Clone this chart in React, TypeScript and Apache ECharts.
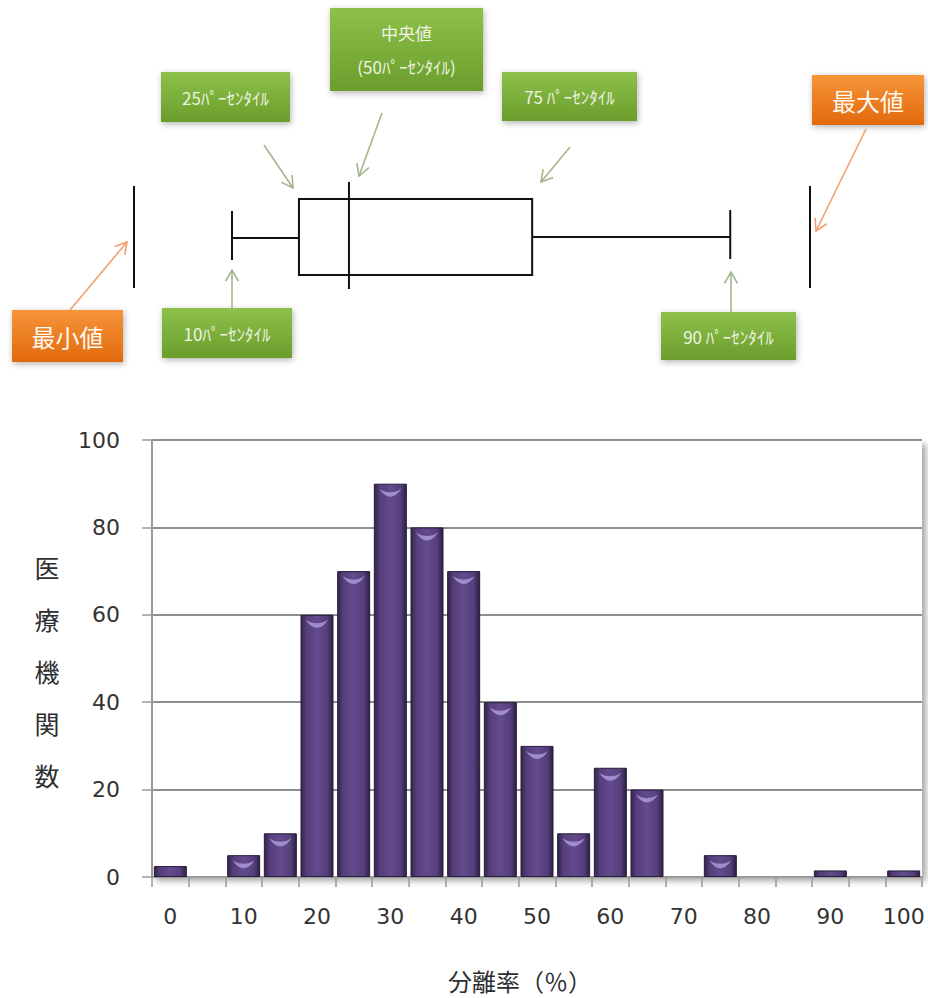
import React, { useEffect, useRef } from "react";
import * as echarts from "echarts";

// ---- Histogram data ----
const categories = ["0", "5", "10", "15", "20", "25", "30", "35", "40", "45", "50", "55", "60", "65", "70", "75", "80", "85", "90", "95", "100"];
const counts = [2.5, 0, 5, 10, 60, 70, 90, 80, 70, 40, 30, 10, 25, 20, 0, 5, 0, 0, 1.5, 0, 1.5];
const yMin = 0;
const yMax = 100;
const yInterval = 20;
const yAxisName = "医療機関数";
const xAxisName = "分離率（％）";

// ---- Box-plot schematic (arbitrary schematic scale 0..100) ----
const boxStatNames = ["最小値", "10ﾊﾟｰｾﾝﾀｲﾙ", "25ﾊﾟｰｾﾝﾀｲﾙ", "中央値", "75ﾊﾟｰｾﾝﾀｲﾙ", "90ﾊﾟｰｾﾝﾀｲﾙ", "最大値"];
const boxStats = [0, 14.5, 24.4, 31.8, 58.9, 88.2, 100];

// ---- Annotation texts ----
const labelTexts = {
  p25: "25ﾊﾟｰｾﾝﾀｲﾙ",
  median: "中央値\n(50ﾊﾟｰｾﾝﾀｲﾙ)",
  p75: "75 ﾊﾟｰｾﾝﾀｲﾙ",
  max: "最大値",
  min: "最小値",
  p10: "10ﾊﾟｰｾﾝﾀｲﾙ",
  p90: "90 ﾊﾟｰｾﾝﾀｲﾙ",
};

const CJK = '"Noto Sans CJK JP", "Noto Sans", sans-serif';
const NUM = '"DejaVu Sans", Verdana, sans-serif';

function greenFill() {
  return new echarts.graphic.LinearGradient(0, 0, 0, 1, [
    { offset: 0, color: "#8dc14a" },
    { offset: 1, color: "#6b9d2c" },
  ]);
}
function orangeFill() {
  return new echarts.graphic.LinearGradient(0, 0, 0, 1, [
    { offset: 0, color: "#f6953a" },
    { offset: 1, color: "#e2690c" },
  ]);
}

function labelBox(x: number, y: number, w: number, h: number, text: string, kind: "green" | "orange", fontSize: number, lineHeight?: number) {
  return {
    type: "group",
    children: [
      {
        type: "rect",
        shape: { x, y, width: w, height: h },
        style: {
          fill: kind === "green" ? greenFill() : orangeFill(),
          shadowBlur: 6,
          shadowColor: "rgba(0,0,0,0.3)",
          shadowOffsetX: 1,
          shadowOffsetY: 2,
        },
      },
      {
        type: "text",
        x: x + w / 2,
        y: y + h / 2,
        style: {
          text,
          fill: kind === "green" ? "#eef3e2" : "#fff8f0",
          fontSize,
          fontFamily: CJK,
          lineHeight: lineHeight || fontSize * 1.2,
          align: "center",
          verticalAlign: "middle",
          textAlign: "center",
          textVerticalAlign: "middle",
        },
      },
    ],
  };
}

function arrow(x1: number, y1: number, x2: number, y2: number, color: string) {
  const t = Math.atan2(y2 - y1, x2 - x1);
  const len = 13;
  const a = Math.PI / 6;
  return {
    type: "group",
    children: [
      {
        type: "line",
        shape: { x1, y1, x2, y2 },
        style: { stroke: color, lineWidth: 1.6 },
      },
      {
        type: "polyline",
        shape: {
          points: [
            [x2 - len * Math.cos(t - a), y2 - len * Math.sin(t - a)],
            [x2, y2],
            [x2 - len * Math.cos(t + a), y2 - len * Math.sin(t + a)],
          ],
        },
        style: { stroke: color, lineWidth: 1.6, fill: "none" },
      },
    ],
  };
}

export default function App() {
  const ref = useRef<HTMLDivElement>(null);

  useEffect(() => {
    if (!ref.current) return;
    const chart = echarts.init(ref.current, undefined, { renderer: "svg" });

    const barFill = new echarts.graphic.LinearGradient(0, 0, 1, 0, [
      { offset: 0, color: "#33254c" },
      { offset: 0.18, color: "#563f7c" },
      { offset: 0.5, color: "#634a8d" },
      { offset: 0.82, color: "#553f7b" },
      { offset: 1, color: "#2c2043" },
    ]);

    const green = "#a3b78c";
    const orange = "#f2a070";

    const option: any = {
      animation: false,
      backgroundColor: "#ffffff",
      grid: [
        {
          left: 152,
          top: 440,
          right: 6,
          bottom: 121,
          show: true,
          backgroundColor: "#ffffff",
          borderWidth: 0,
          shadowColor: "rgba(0,0,0,0.35)",
          shadowBlur: 6,
          shadowOffsetX: 4,
          shadowOffsetY: 4,
        },
        { left: 134, width: 676, top: 180, height: 114, show: false },
      ],
      xAxis: [
        {
          type: "category",
          gridIndex: 0,
          data: categories,
          boundaryGap: true,
          axisLine: { show: true, lineStyle: { color: "#9a9a9a", width: 2 } },
          axisTick: { show: true, interval: 0, length: 10, lineStyle: { color: "#9a9a9a", width: 1.5 } },
          axisLabel: { interval: 1, margin: 28, fontSize: 22, fontFamily: NUM, color: "#333333" },
        },
        { type: "value", gridIndex: 1, min: 0, max: 100, show: false },
      ],
      yAxis: [
        {
          type: "value",
          gridIndex: 0,
          min: yMin,
          max: yMax,
          interval: yInterval,
          axisLine: { show: true, lineStyle: { color: "#9a9a9a", width: 2 } },
          axisTick: { show: true, length: 10, lineStyle: { color: "#9a9a9a", width: 1.5 } },
          axisLabel: { margin: 32, fontSize: 22, fontFamily: NUM, color: "#333333" },
          splitLine: { show: true, lineStyle: { color: "#8e8e8e", width: 2 } },
        },
        { type: "value", gridIndex: 1, min: 0, max: 1, show: false },
      ],
      series: [
        {
          type: "bar",
          xAxisIndex: 0,
          yAxisIndex: 0,
          data: counts.map((v) => (v > 0 ? v : { value: v, itemStyle: { borderWidth: 0, opacity: 0 } })),
          barCategoryGap: "10%",
          itemStyle: { color: barFill, borderColor: "#261b38", borderWidth: 1 },
          z: 2,
        },
        {
          type: "pictorialBar",
          xAxisIndex: 0,
          yAxisIndex: 0,
          data: counts.map((v) => (v >= 5 ? v : "-")),
          symbol: "path://M0,0 C6,9 14,9 20,0 C14,4 6,4 0,0 Z",
          symbolSize: [22, 8],
          symbolPosition: "end",
          symbolOffset: [0, 5],
          itemStyle: { color: "#ab98d8", opacity: 0.85 },
          z: 3,
          silent: true,
        },
        {
          type: "custom",
          xAxisIndex: 1,
          yAxisIndex: 1,
          data: [boxStats],
          silent: true,
          renderItem: (params: any, api: any) => {
            const v = [0, 1, 2, 3, 4, 5, 6].map((i) => api.value(i));
            const cy = api.coord([0, 0.5])[1];
            const px = v.map((val: number) => api.coord([val, 0.5])[0]);
            const [xMin, x10, x25, x50, x75, x90, xMax] = px;
            const ls = { stroke: "#111111", lineWidth: 2, fill: "none" };
            return {
              type: "group",
              children: [
                { type: "line", shape: { x1: xMin, y1: cy - 51, x2: xMin, y2: cy + 51 }, style: ls },
                { type: "line", shape: { x1: x10, y1: cy - 26, x2: x10, y2: cy + 23 }, style: ls },
                { type: "line", shape: { x1: x10, y1: cy + 1, x2: x25, y2: cy + 1 }, style: ls },
                { type: "rect", shape: { x: x25, y: cy - 38, width: x75 - x25, height: 76 }, style: ls },
                { type: "line", shape: { x1: x50, y1: cy - 55, x2: x50, y2: cy + 52 }, style: ls },
                { type: "line", shape: { x1: x75, y1: cy, x2: x90, y2: cy }, style: ls },
                { type: "line", shape: { x1: x90, y1: cy - 27, x2: x90, y2: cy + 22 }, style: ls },
                { type: "line", shape: { x1: xMax, y1: cy - 51, x2: xMax, y2: cy + 51 }, style: ls },
              ],
            };
          },
        },
      ],
      graphic: [
        labelBox(330, 8, 153, 83, labelTexts.median, "green", 17, 34),
        labelBox(161, 72, 129, 50, labelTexts.p25, "green", 17),
        labelBox(502, 72, 135, 49, labelTexts.p75, "green", 17),
        labelBox(812, 75, 112, 50, labelTexts.max, "orange", 24),
        labelBox(12, 310, 111, 52, labelTexts.min, "orange", 24),
        labelBox(162, 308, 130, 50, labelTexts.p10, "green", 17),
        labelBox(661, 312, 135, 48, labelTexts.p90, "green", 17),
        arrow(264, 145, 293, 188, green),
        arrow(382, 113, 359, 176, green),
        arrow(570, 147, 541, 182, green),
        arrow(232, 308, 232, 270, green),
        arrow(731, 312, 731, 272, green),
        arrow(70, 310, 127, 242, orange),
        arrow(866, 129, 816, 231, orange),
        {
          type: "text",
          x: 47,
          y: 671,
          style: {
            text: yAxisName.split("").join("\n"),
            fill: "#2e2e2e",
            fontSize: 25,
            fontFamily: CJK,
            lineHeight: 52,
            align: "center",
            verticalAlign: "middle",
            textAlign: "center",
            textVerticalAlign: "middle",
          },
        },
        {
          type: "text",
          x: 520,
          y: 980,
          style: {
            text: xAxisName,
            fill: "#2e2e2e",
            fontSize: 24,
            fontFamily: CJK,
            align: "center",
            verticalAlign: "middle",
            textAlign: "center",
            textVerticalAlign: "middle",
          },
        },
      ],
    };

    chart.setOption(option);
    return () => chart.dispose();
  }, []);

  return (
    <div
      ref={ref}
      style={{ position: "absolute", left: 0, top: 0, width: 928, height: 998, background: "#fff" }}
    />
  );
}
